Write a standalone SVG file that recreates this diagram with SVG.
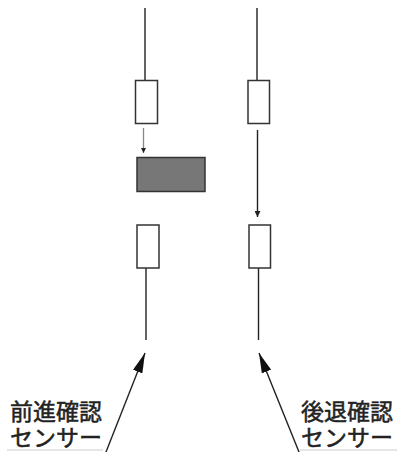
<svg xmlns="http://www.w3.org/2000/svg" width="397" height="452" viewBox="0 0 397 452">
<defs>
<style>
.box{fill:#fff;stroke:#333;stroke-width:1.5}
.ln{stroke:#222;stroke-width:1.4;fill:none}
.lbl{font-family:"Noto Sans CJK JP",sans-serif;font-size:23px;fill:#222;stroke:#222;stroke-width:0.5}
</style>
<marker id="ah" viewBox="0 0 10 10" refX="10" refY="5" markerWidth="8" markerHeight="5" markerUnits="userSpaceOnUse" orient="auto"><path d="M0,0 L10,5 L0,10 z" fill="#222"/></marker>
<marker id="ah2" viewBox="0 0 10 10" refX="10" refY="5" markerWidth="9" markerHeight="6" markerUnits="userSpaceOnUse" orient="auto"><path d="M0,0 L10,5 L0,10 z" fill="#222"/></marker>
<marker id="big" viewBox="0 0 20 10" refX="20" refY="5" markerWidth="20" markerHeight="10" markerUnits="userSpaceOnUse" orient="auto"><path d="M0,0 L20,5 L0,10 z" fill="#111"/></marker>
</defs>
<g id="connectors">
<line class="ln" x1="145" y1="8" x2="145" y2="80"/>
<line class="ln" x1="257" y1="8" x2="257" y2="80"/>
<line x1="143.5" y1="128" x2="143.5" y2="153" stroke="#888" stroke-width="1.3" marker-end="url(#ah)"/>
<line class="ln" x1="257.5" y1="130" x2="257.5" y2="217" marker-end="url(#ah2)"/>
<line class="ln" x1="146" y1="268" x2="146" y2="340"/>
<line class="ln" x1="258.5" y1="268" x2="258.5" y2="340"/>
<line class="ln" x1="106" y1="452" x2="145" y2="353" marker-end="url(#big)"/>
<line class="ln" x1="299" y1="452" x2="259" y2="353" marker-end="url(#big)"/>
<line x1="7" y1="450" x2="103" y2="450" stroke="#ccc" stroke-width="1"/>
<line x1="300" y1="450" x2="397" y2="450" stroke="#ccc" stroke-width="1"/>
</g>
<g id="box-left-top"><rect class="box" x="135.5" y="80.5" width="22" height="43"/></g>
<g id="box-right-top"><rect class="box" x="248" y="80.5" width="21.5" height="43"/></g>
<g id="block"><rect x="137" y="157.5" width="68" height="34" fill="#777" stroke="#333" stroke-width="1.5"/></g>
<g id="box-left-bottom"><rect class="box" x="137" y="225" width="22" height="43"/></g>
<g id="box-right-bottom"><rect class="box" x="249" y="225" width="21.5" height="43"/></g>
<g id="label-forward">
<text class="lbl" x="10" y="420">前進確認<tspan x="10" dy="26">センサー</tspan></text>
</g>
<g id="label-backward">
<text class="lbl" x="301" y="420">後退確認<tspan x="301" dy="26">センサー</tspan></text>
</g>
</svg>
